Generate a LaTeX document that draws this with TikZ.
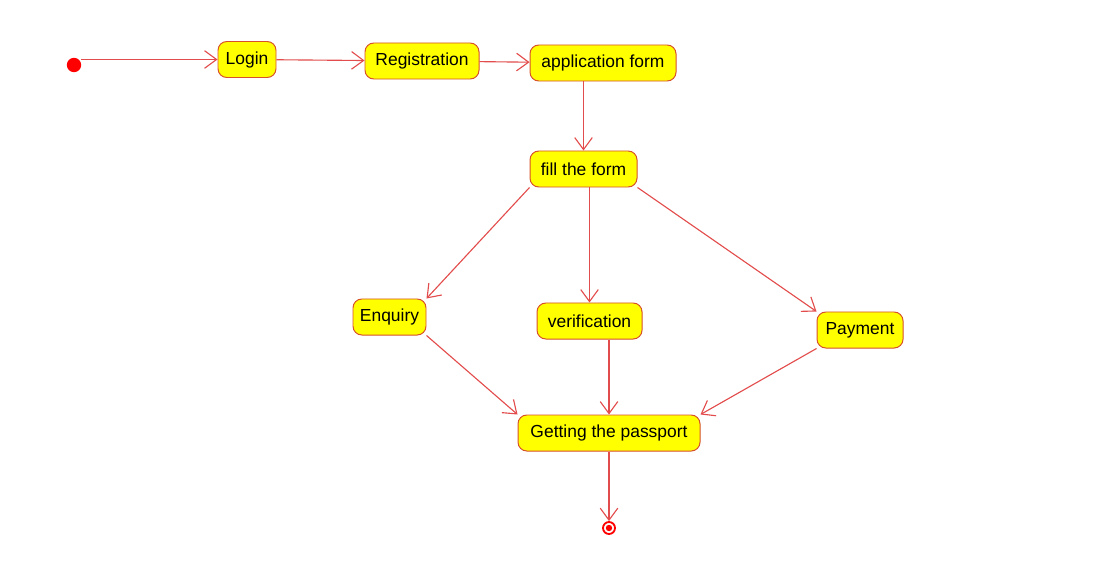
\documentclass[tikz,border=0pt]{standalone}
\usepackage{fontspec}
\setmainfont{Liberation Sans}
\usetikzlibrary{arrows.meta}
\definecolor{umlred}{RGB}{226, 76, 76}
\definecolor{umledge}{RGB}{214, 80, 40}
\definecolor{umlyellow}{RGB}{255, 255, 0}

\begin{document}
\begin{tikzpicture}[
      x=0.025cm, y=-0.025cm,
      act/.style={draw=umledge, fill=umlyellow, rounded corners=0.22cm,
        line width=0.7pt, font=\fontsize{12.4}{14}\selectfont, inner sep=0pt,
        minimum height=0.9cm},
      startdot/.style={circle, fill=red, inner sep=0pt, minimum size=0.36cm},
      endring/.style={circle, draw=red, line width=1.3pt, fill=white,
        inner sep=0pt, minimum size=0.3cm},
      arr/.style={-{Straight Barb[length=3mm, width=4.4mm]}, umlred, line width=0.8pt}
    ]
    \useasboundingbox (0,0) rectangle (1102,578);

    % initial and final states
    \node[startdot] (start) at (74,65) {};
    \node[endring] (stop) at (609,528) {};
    \fill[red] (stop.center) circle (3.2);

    % activities
    \node[act, minimum width=58*0.025cm] (login) at (247,59.5) {Login};
    \node[act, minimum width=114*0.025cm] (reg) at (422,61) {Registration};
    \node[act, minimum width=146*0.025cm] (appform) at (603,63) {application form};
    \node[act, minimum width=107*0.025cm] (fill) at (583.5,169) {fill the form};
    \node[act, minimum width=73*0.025cm] (enquiry) at (389.5,317) {Enquiry};
    \node[act, minimum width=105*0.025cm] (verif) at (589.5,321) {verification};
    \node[act, minimum width=86*0.025cm] (payment) at (860,330) {Payment};
    \node[act, minimum width=182*0.025cm] (passport) at (609,433) {Getting the passport};

    % transitions
    \draw[arr] (start.east |- login.west) -- (login.west);
    \draw[arr] (login) -- (reg);
    \draw[arr] (reg) -- (appform);
    \draw[arr] (appform.south -| fill.north) -- (fill.north);
    \draw[arr] (fill.south west) -- (enquiry.north east);
    \draw[arr] (fill.south -| verif.north) -- (verif.north);
    \draw[arr] (fill.south east) -- (payment.north west);
    \draw[arr] (enquiry.south east) -- (passport.north west);
    \draw[arr] (verif.south -| passport.north) -- (passport.north);
    \draw[arr] (payment.south west) -- (passport.north east);
    \draw[arr] (passport) -- (stop);
  \end{tikzpicture}
\end{document}
